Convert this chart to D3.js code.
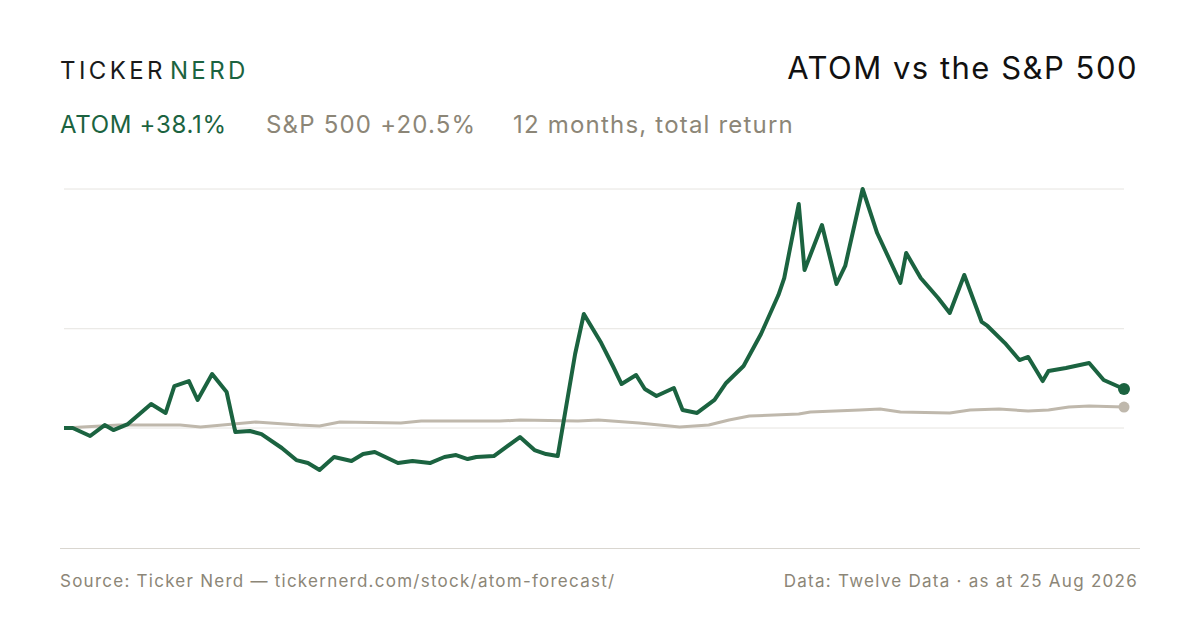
<!DOCTYPE html>
<html><head><meta charset="utf-8">
<script src="https://cdn.jsdelivr.net/npm/d3@7"></script>
<style>body{margin:0;background:#fff}svg{display:block}text{font-family:Inter,"Noto Sans",sans-serif}</style>
</head><body><svg id="c" width="1200" height="630"></svg>
<script>
const atomDays=[0,3,9,14,17,22,30,35,38,43,46,51,56,59,64,68,75,80,84,88,93,99,103,107,115,120,126,131,135,139,142,148,157,162,166,170,176,179,185,189,192,197,200,204,210,213,218,224,228,234,240,246,248,253,255,261,266,269,275,280,288,290,295,301,305,310,316,318,324,329,332,337,339,345,353,358,365];
const atomVals=[0,0,-7.8,2.9,-2,3.9,23.4,14.7,41,45.9,27.4,52.8,35.2,-3.9,-2.9,-5.9,-19.5,-31.3,-34.2,-41,-28.3,-32.2,-25.4,-23.4,-34.2,-32.2,-34.2,-28.3,-26.4,-30.3,-28.3,-27.4,-8.8,-21.5,-25.4,-27.4,72.3,111.4,83,60.6,43,51.8,38.1,31.3,39.1,17.6,14.7,27.4,44,60.6,91.8,129.9,146.5,218.8,154.4,198.3,140.7,158.3,233.5,190.5,141.7,171,146.5,127,112.4,149.5,103.6,99.7,83,66.4,69.4,45.9,55.7,58.6,63.5,46.9,38.1];
const spDays=[0,19,40,47,66,81,88,95,116,123,136,150,157,177,184,198,212,222,229,236,253,257,274,281,288,305,312,322,332,339,346,353,365];
const spVals=[0,2.9,2.9,1,5.9,2.9,2,5.9,4.9,6.8,6.8,6.8,7.8,6.8,7.8,4.9,1,2.9,7.8,11.7,13.7,15.6,17.6,18.6,15.6,14.7,17.6,18.6,16.6,17.6,20.5,21.5,20.5];
const gridVals=[0,97,233.5];
const green="#1b6340", grey="#bfb8ac", muted="#8c8677";
const svg=d3.select("#c");
const x=d3.scaleLinear().domain([0,365]).range([64,1124]);
const y=d3.scaleLinear().domain([-117.2,233.5]).range([548,189]);
svg.selectAll(".g").data(gridVals).join("line").attr("x1",64).attr("x2",1124)
 .attr("y1",d=>y(d)).attr("y2",d=>y(d)).attr("stroke","#e6e4e0").attr("stroke-width",1);
svg.append("line").attr("x1",60).attr("x2",1140).attr("y1",548.5).attr("y2",548.5).attr("stroke","#d9d6d0");
const line=d3.line().x(d=>x(d[0])).y(d=>y(d[1]));
const sp=spDays.map((d,i)=>[d,spVals[i]]), at=atomDays.map((d,i)=>[d,atomVals[i]]);
svg.append("path").attr("d",line(sp)).attr("fill","none").attr("stroke",grey).attr("stroke-width",3).attr("stroke-linejoin","round");
svg.append("path").attr("d",line(at)).attr("fill","none").attr("stroke",green).attr("stroke-width",4).attr("stroke-linejoin","round");
svg.append("circle").attr("cx",x(365)).attr("cy",y(spVals[spVals.length-1])).attr("r",5.5).attr("fill",grey);
svg.append("circle").attr("cx",x(365)).attr("cy",y(atomVals[atomVals.length-1])).attr("r",6).attr("fill",green);
const logo=svg.append("text").attr("x",60).attr("y",79).attr("font-size",24).attr("letter-spacing",3.4);
logo.append("tspan").text("TICKER").attr("fill","#1a1a1a");
logo.append("tspan").text("NERD").attr("fill",green).attr("dx",4);
svg.append("text").attr("x",1138).attr("y",79).attr("text-anchor","end").attr("font-size",31).attr("letter-spacing",1.5).attr("fill","#111").text("ATOM vs the S&P 500");
svg.append("text").attr("x",60).attr("y",133).attr("font-size",24).attr("letter-spacing",0.7).attr("fill",green).text("ATOM +38.1%");
svg.append("text").attr("x",266).attr("y",133).attr("font-size",24).attr("letter-spacing",1.2).attr("fill",muted).text("S&P 500 +20.5%");
svg.append("text").attr("x",513).attr("y",133).attr("font-size",24).attr("letter-spacing",1.2).attr("fill",muted).text("12 months, total return");
svg.append("text").attr("x",60).attr("y",587).attr("font-size",17).attr("letter-spacing",1.25).attr("fill",muted).text("Source: Ticker Nerd — tickernerd.com/stock/atom-forecast/");
svg.append("text").attr("x",1138).attr("y",587).attr("text-anchor","end").attr("font-size",17).attr("letter-spacing",1.27).attr("fill",muted).text("Data: Twelve Data · as at 25 Aug 2026");
</script></body></html>
